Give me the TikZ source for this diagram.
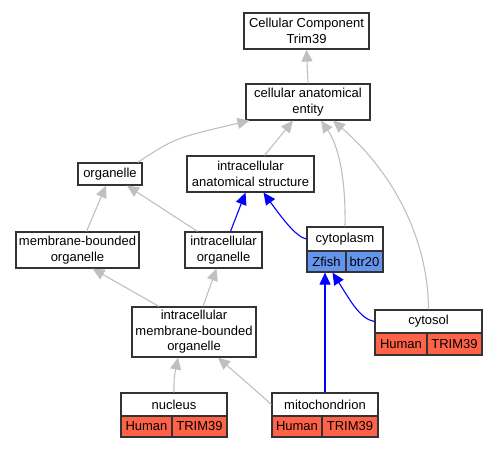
\documentclass[tikz,border=0pt]{standalone}
\usepackage{fontspec}
\setmainfont{Liberation Sans}
\usetikzlibrary{arrows.meta,calc}
\definecolor{edgegray}{HTML}{C0C0C0}
\definecolor{zfish}{HTML}{6495ED}
\definecolor{human}{HTML}{FF6347}
\definecolor{bordergray}{HTML}{333333}
\begin{document}
\begin{tikzpicture}[x=1pt,y=-1pt,
  box/.style={draw=bordergray, line width=1.2pt, fill=white, align=center, inner sep=0pt,
    font=\fontsize{13}{15.5}\selectfont},
  zcell/.style={box, fill=zfish},
  hcell/.style={box, fill=human},
  gedge/.style={draw=edgegray, line width=1.1pt, -{Triangle[length=12pt,width=11pt]}},
  bedge/.style={draw=blue, line width=1.1pt, -{Triangle[length=12pt,width=11pt]}}]
\useasboundingbox (0,0) rectangle (497,448);
% nodes
\node[box, minimum width=125, minimum height=36] (top) at (306.5,31) {Cellular Component\\Trim39};
\node[box, minimum width=124, minimum height=36] (cae) at (308,102) {cellular anatomical\\entity};
\node[box, minimum width=64, minimum height=22] (org) at (110,174) {organelle};
\node[box, minimum width=127, minimum height=36] (ias) at (250.5,174) {intracellular\\anatomical structure};
\node[box, minimum width=123, minimum height=36] (mbo) at (77.5,250) {membrane-bounded\\organelle};
\node[box, minimum width=77, minimum height=36] (io) at (223.5,250) {intracellular\\organelle};
\node[box, minimum width=76, minimum height=24] (cyto) at (345,239) {cytoplasm};
\node[zcell, minimum width=39, minimum height=21] (cytoZ) at (326.5,261.5) {Zfish};
\node[zcell, minimum width=37, minimum height=21] (cytoB) at (364.5,261.5) {btr20};
\node[box, minimum width=124, minimum height=50] (imbo) at (194,332) {intracellular\\membrane-bounded\\organelle};
\node[box, minimum width=107, minimum height=23] (csol) at (428.5,321.5) {cytosol};
\node[hcell, minimum width=52, minimum height=22] (csolH) at (401,344) {Human};
\node[hcell, minimum width=55, minimum height=22] (csolT) at (454.5,344) {TRIM39};
\node[box, minimum width=106, minimum height=23] (nuc) at (174,404.5) {nucleus};
\node[hcell, minimum width=51, minimum height=21] (nucH) at (146.5,426.5) {Human};
\node[hcell, minimum width=55, minimum height=21] (nucT) at (199.5,426.5) {TRIM39};
\node[box, minimum width=106, minimum height=23] (mito) at (325,404.5) {mitochondrion};
\node[hcell, minimum width=50, minimum height=21] (mitoH) at (297,426.5) {Human};
\node[hcell, minimum width=56, minimum height=21] (mitoT) at (350,426.5) {TRIM39};
% gray edges
\draw[gedge] (cae.north) -- (top.south);
\draw[gedge] ($(org.north east)+(-5,0)$) .. controls (175,138) .. ($(cae.south west)+(4,0)$);
\draw[gedge] ($(ias.north)+(14,0)$) -- ($(cae.south)+(-15,0)$);
\draw[gedge] (cyto.north) .. controls (346,170) and (336,142) .. ($(cae.south)+(13,0)$);
\draw[gedge] (csol.north) .. controls (428,230) and (385,165) .. ($(cae.south)+(25,0)$);
\draw[gedge] ($(mbo.north)+(9,0)$) -- ($(org.south)+(-4,0)$);
\draw[gedge] ($(io.north)+(-26,0)$) -- ($(org.south)+(17,0)$);
\draw[gedge] ($(imbo.north)+(-35,0)$) -- ($(mbo.south)+(15,0)$);
\draw[gedge] ($(imbo.north)+(9,0)$) -- ($(io.south)+(-7,0)$);
\draw[gedge] (nuc.north) .. controls (174,378) .. ($(imbo.south)+(-16,0)$);
\draw[gedge] (mito.west) .. controls (262,396) .. ($(imbo.south)+(24,0)$);
% blue edges
\draw[bedge] ($(io.north)+(7,0)$) -- ($(ias.south)+(-5,0)$);
\draw[bedge] (cyto.west) .. controls (296,237) and (282,218) .. ($(ias.south)+(13,0)$);
\draw[bedge] (mito.north) -- (mito.north |- cytoZ.south);
\draw[bedge] (csol.west) .. controls (360,319) and (350,300) .. ($(cytoZ.south)+(6,0)$);
\end{tikzpicture}
\end{document}
